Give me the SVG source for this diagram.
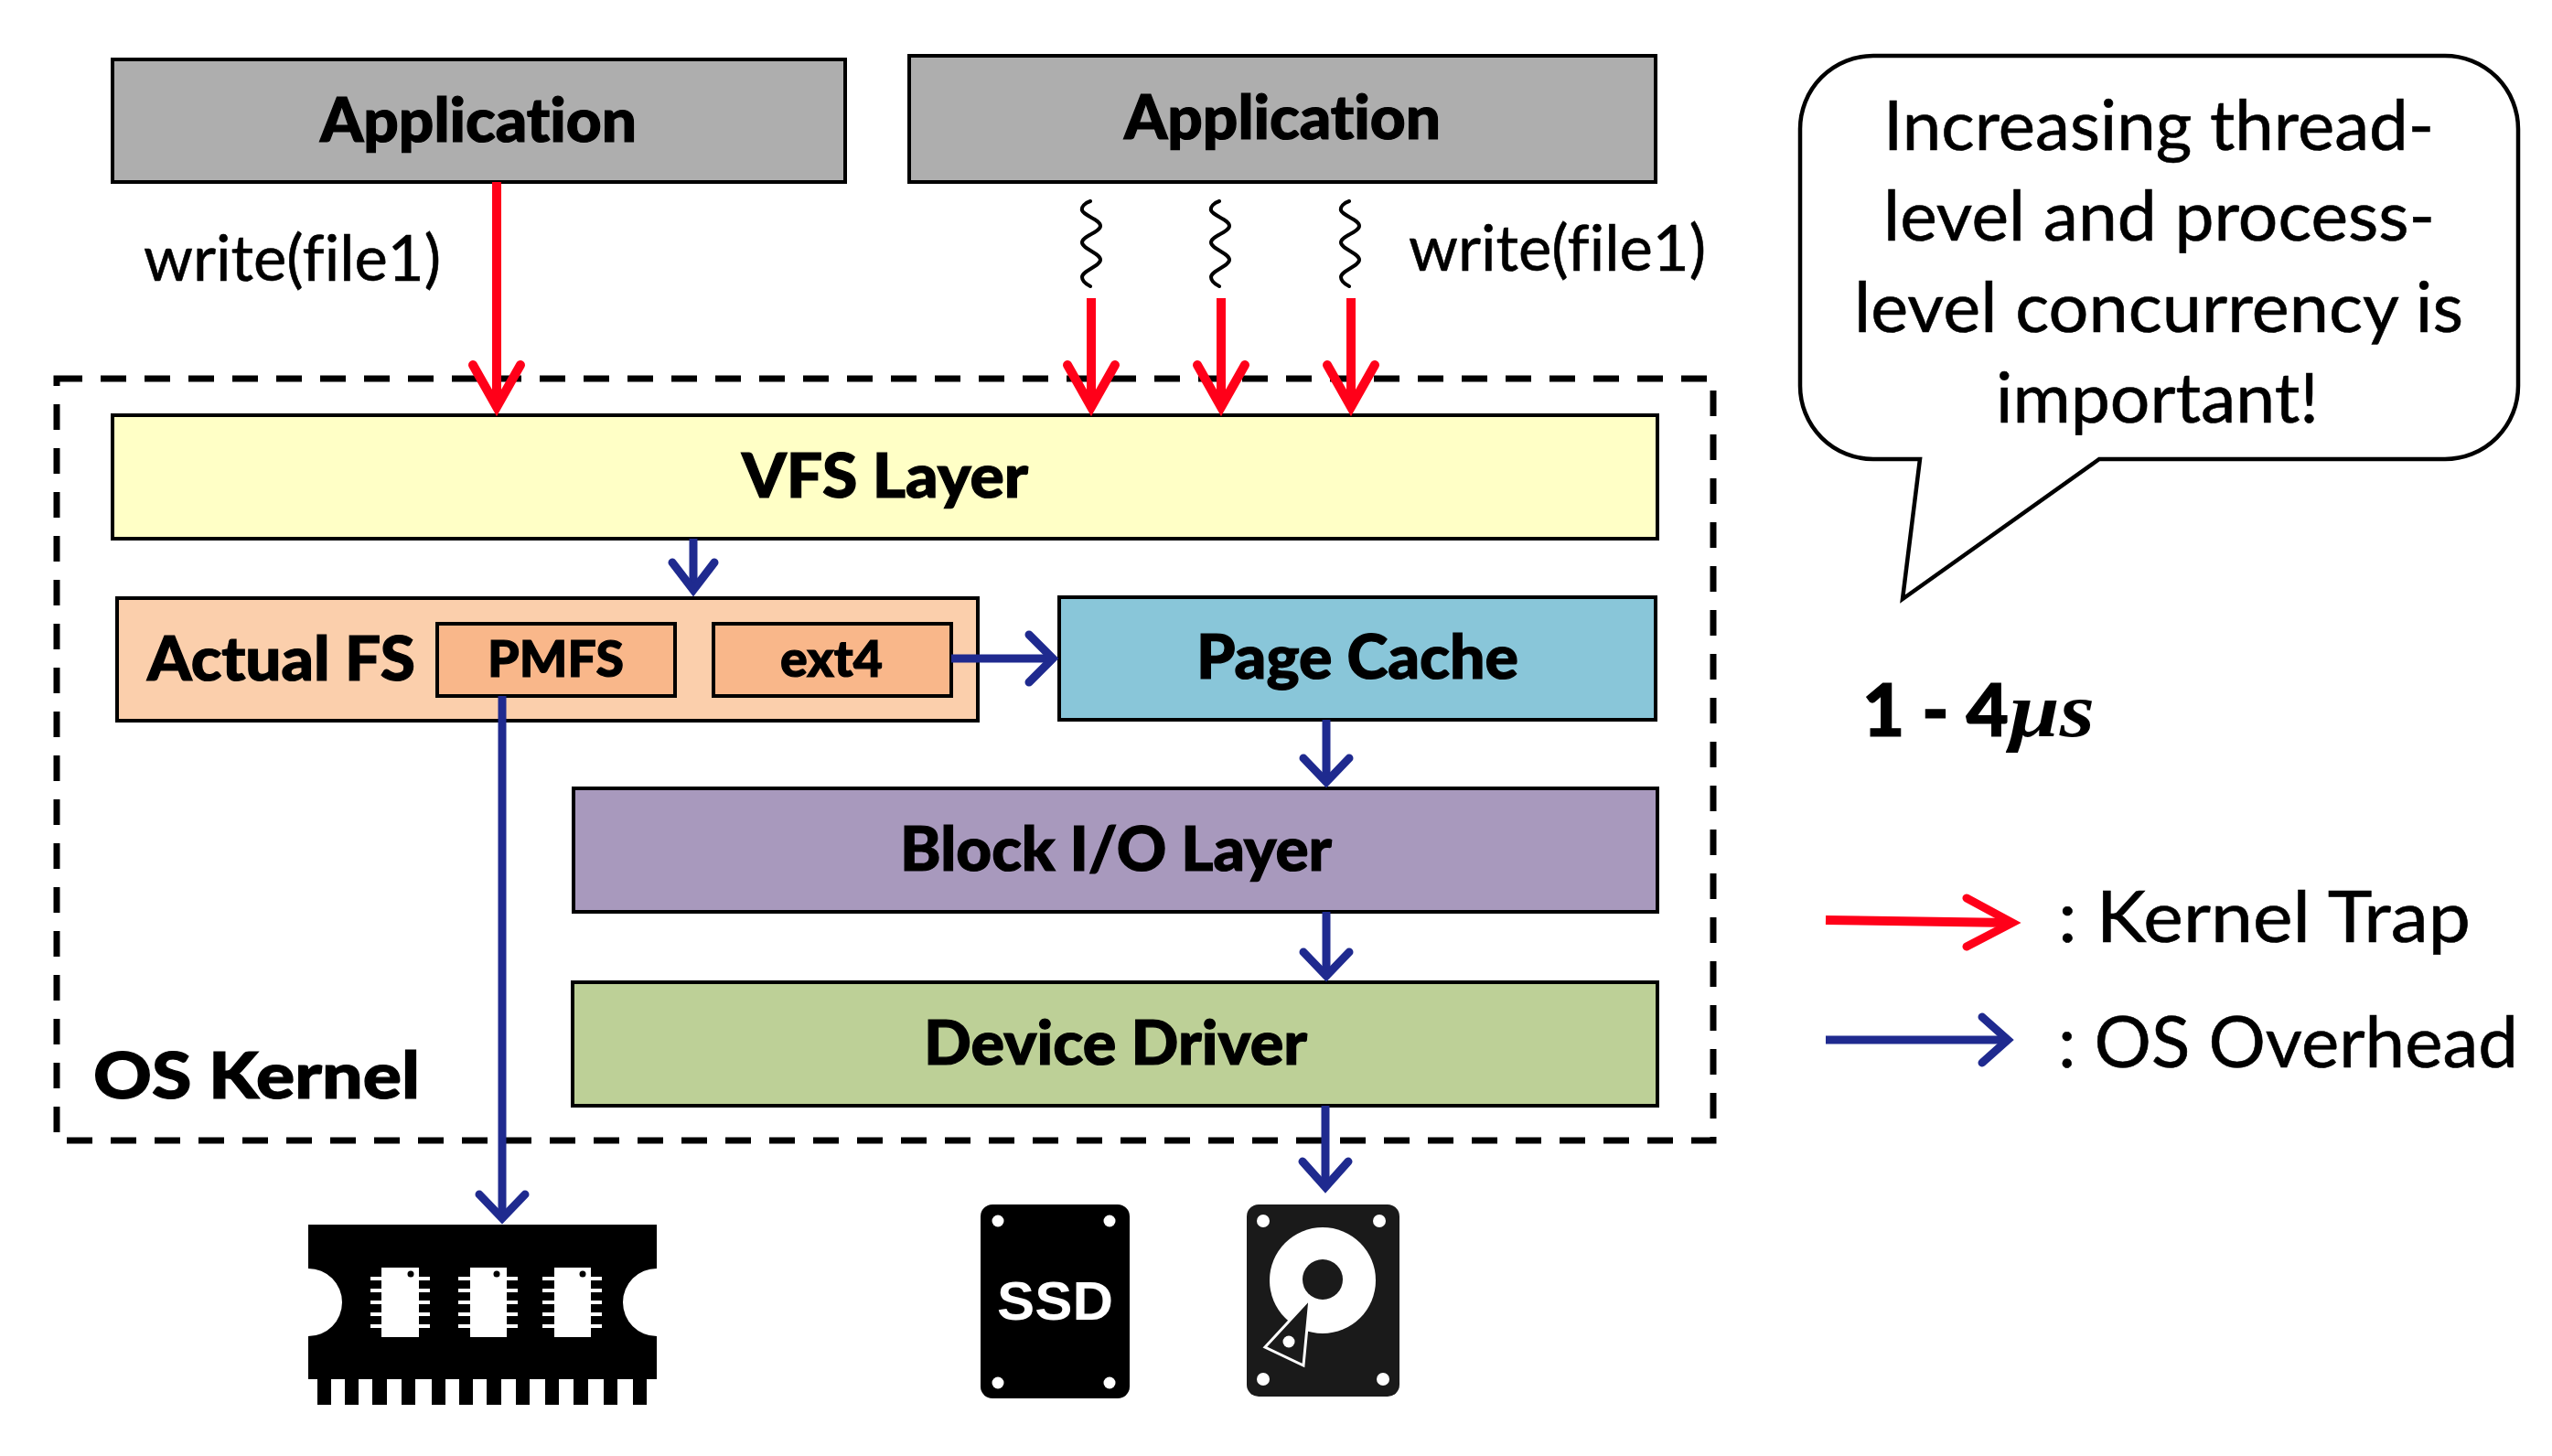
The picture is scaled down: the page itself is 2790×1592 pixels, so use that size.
<svg xmlns="http://www.w3.org/2000/svg" width="2790" height="1592" viewBox="0 0 2790 1592">
<style>
.box{stroke:#000;stroke-width:4}
.b{font-family:Lato,"Liberation Sans",sans-serif;font-weight:900;font-size:66px;fill:#000;stroke:#000;stroke-width:1.2;font-variant-ligatures:none}
.r{font-family:Lato,"Liberation Sans",sans-serif;font-weight:400;font-size:76px;fill:#000;stroke:#000;stroke-width:.6;font-variant-ligatures:none}
.red{fill:none;stroke:#ff0019;stroke-width:10;stroke-linecap:round;stroke-linejoin:miter}
.blue{fill:none;stroke:#1f2a8f;stroke-width:9;stroke-linecap:round;stroke-linejoin:miter}
.shaft{stroke-linecap:butt}
.wave{fill:none;stroke:#000;stroke-width:4;stroke-linecap:round}
</style>
<g id="kernel-box"><rect x="62" y="414" width="1811" height="833" fill="none" stroke="#000" stroke-width="7" stroke-dasharray="28 20"/></g>
<g id="app1"><rect class="box" x="123" y="65" width="801" height="134" fill="#aeaeae"/><text class="b" x="350" y="155" textLength="346" lengthAdjust="spacingAndGlyphs">Application</text></g>
<g id="app2"><rect class="box" x="994" y="61" width="816" height="138" fill="#aeaeae"/><text class="b" x="1229" y="152" textLength="346" lengthAdjust="spacingAndGlyphs">Application</text></g>
<g id="vfs"><rect class="box" x="123" y="454" width="1689" height="135" fill="#ffffc6"/><text class="b" x="811" y="544" textLength="313" lengthAdjust="spacingAndGlyphs">VFS Layer</text></g>
<g id="actual-fs"><rect class="box" x="128" y="654" width="941" height="134" fill="#fbcfac"/><text class="b" x="161" y="744" textLength="293" lengthAdjust="spacingAndGlyphs">Actual FS</text></g>
<g id="pmfs"><rect class="box" x="478" y="682" width="260" height="79" fill="#f9b78a"/><text class="b" x="533" y="740" style="font-size:56px" textLength="149" lengthAdjust="spacingAndGlyphs">PMFS</text></g>
<g id="ext4"><rect class="box" x="780" y="682" width="260" height="79" fill="#f9b78a"/><text class="b" x="853" y="740" style="font-size:56px" textLength="112" lengthAdjust="spacingAndGlyphs">ext4</text></g>
<g id="page-cache"><rect class="box" x="1158" y="653" width="652" height="134" fill="#89c6d9"/><text class="b" x="1308" y="742" textLength="352" lengthAdjust="spacingAndGlyphs">Page Cache</text></g>
<g id="block-io"><rect class="box" x="627" y="862" width="1185" height="135" fill="#a899bd"/><text class="b" x="984" y="952" textLength="472" lengthAdjust="spacingAndGlyphs">Block I/O Layer</text></g>
<g id="device-driver"><rect class="box" x="626" y="1074" width="1186" height="135" fill="#bdd097"/><text class="b" x="1010" y="1164" textLength="419" lengthAdjust="spacingAndGlyphs">Device Driver</text></g>
<g id="os-kernel-label"><text class="b" x="102" y="1201" style="font-size:70px" textLength="357" lengthAdjust="spacingAndGlyphs">OS Kernel</text></g>
<g id="write1"><text class="r" x="157" y="307" style="font-size:70px" textLength="325" lengthAdjust="spacingAndGlyphs">write(file1)</text></g>
<g id="write2"><text class="r" x="1540" y="296" style="font-size:70px" textLength="325" lengthAdjust="spacingAndGlyphs">write(file1)</text></g>
<g id="threads">
<path class="wave" d="M1192 220C1186 222 1182 226 1183 230C1185 236 1203 240 1203 247C1203 254 1183 258 1183 265C1183 272 1203 277 1203 284C1203 291 1183 296 1183 303C1183 307 1188 311 1192 313"/>
<path class="wave" d="M1333 220C1327 222 1323 226 1324 230C1326 236 1344 240 1344 247C1344 254 1324 258 1324 265C1324 272 1344 277 1344 284C1344 291 1324 296 1324 303C1324 307 1329 311 1333 313"/>
<path class="wave" d="M1475 220C1469 222 1465 226 1466 230C1468 236 1486 240 1486 247C1486 254 1466 258 1466 265C1466 272 1486 277 1486 284C1486 291 1466 296 1466 303C1466 307 1471 311 1475 313"/>
</g>
<g id="connectors">
<path class="red shaft" d="M543 199V445"/><path class="red" d="M517 399L543 445L569 399"/>
<path class="red shaft" d="M1193 326V445"/><path class="red" d="M1167 399L1193 445L1219 399"/>
<path class="red shaft" d="M1335 326V445"/><path class="red" d="M1309 399L1335 445L1361 399"/>
<path class="red shaft" d="M1477 326V445"/><path class="red" d="M1451 399L1477 445L1503 399"/>
<path class="blue shaft" d="M758 589V645"/><path class="blue" d="M735 615L758 645L781 615"/>
<path class="blue shaft" d="M549 761V1332"/><path class="blue" d="M524 1306L549 1332L574 1306"/>
<path class="blue shaft" d="M1040 720H1151"/><path class="blue" d="M1125 694L1151 720L1125 746"/>
<path class="blue shaft" d="M1450 787V855"/><path class="blue" d="M1425 829L1450 855L1475 829"/>
<path class="blue shaft" d="M1450 997V1067"/><path class="blue" d="M1425 1041L1450 1067L1475 1041"/>
<path class="blue shaft" d="M1449 1209V1298"/><path class="blue" d="M1424 1270L1449 1298L1474 1270"/>
</g>
<g id="ram">
<path fill="#000" fill-rule="evenodd" d="M337 1339H718V1387A37 37 0 0 0 718 1461V1508H707V1536H692V1508H675V1536H660V1508H643V1536H627V1508H611V1536H596V1508H579V1536H564V1508H548V1536H532V1508H517V1536H502V1508H487V1536H472V1508H454V1536H439V1508H423V1536H407V1508H392V1536H377V1508H362V1536H347V1508H337V1461A37 37 0 0 0 337 1387Z"/>
<g id="chip1"><rect x="417" y="1386" width="41" height="76" fill="#fff"/><path d="M405 1398H470M405 1411H470M405 1424H470M405 1437H470M405 1450H470" stroke="#fff" stroke-width="4"/><circle cx="449" cy="1393" r="3.5" fill="#000"/></g>
<g id="chip2"><rect x="514" y="1386" width="40" height="76" fill="#fff"/><path d="M501 1398H566M501 1411H566M501 1424H566M501 1437H566M501 1450H566" stroke="#fff" stroke-width="4"/><circle cx="543" cy="1393" r="3.5" fill="#000"/></g>
<g id="chip3"><rect x="606" y="1386" width="40" height="76" fill="#fff"/><path d="M593 1398H658M593 1411H658M593 1424H658M593 1437H658M593 1450H658" stroke="#fff" stroke-width="4"/><circle cx="637" cy="1393" r="3.5" fill="#000"/></g>
</g>
<g id="ssd"><rect x="1072" y="1317" width="163" height="212" rx="13" fill="#000"/>
<g fill="#fff"><circle cx="1091" cy="1335" r="6.5"/><circle cx="1213" cy="1335" r="6.5"/><circle cx="1091" cy="1512" r="6.5"/><circle cx="1213" cy="1512" r="6.5"/></g>
<text x="1090" y="1443" fill="#fff" font-family="Liberation Sans, Arial, sans-serif" font-weight="700" font-size="60" textLength="127" lengthAdjust="spacingAndGlyphs">SSD</text></g>
<g id="hdd"><rect x="1363" y="1317" width="167" height="210" rx="13" fill="#1a1a1a"/>
<g fill="#fff"><circle cx="1381" cy="1335" r="7"/><circle cx="1508" cy="1335" r="7"/><circle cx="1381" cy="1508" r="7"/><circle cx="1512" cy="1508" r="7"/><circle cx="1446" cy="1400" r="58"/></g>
<path d="M1432 1420L1383 1473L1425 1493Z" fill="#1a1a1a" stroke="#fff" stroke-width="3" stroke-linejoin="miter"/>
<circle cx="1446" cy="1399" r="22" fill="#1a1a1a"/>
<circle cx="1409" cy="1467" r="6.5" fill="#fff"/></g>
<g id="callout"><path d="M2048 61H2673A80 80 0 0 1 2753 141V422A80 80 0 0 1 2673 502H2295L2080 655L2099 502H2048A80 80 0 0 1 1968 422V141A80 80 0 0 1 2048 61Z" fill="#fff" stroke="#000" stroke-width="4.5"/>
<text class="r" x="2059" y="164" textLength="602" lengthAdjust="spacingAndGlyphs">Increasing thread-</text>
<text class="r" x="2059" y="263" textLength="603" lengthAdjust="spacingAndGlyphs">level and process-</text>
<text class="r" x="2027" y="363" textLength="666" lengthAdjust="spacingAndGlyphs">level concurrency is</text>
<text class="r" x="2182" y="462" textLength="353" lengthAdjust="spacingAndGlyphs">important!</text></g>
<g id="latency"><text class="b" x="2036" y="805" style="font-size:80px" textLength="160" lengthAdjust="spacing">1 - 4</text><text x="2197" y="805" font-family="Liberation Serif, serif" font-style="italic" font-weight="700" font-size="84" textLength="93" lengthAdjust="spacingAndGlyphs">μs</text></g>
<g id="legend">
<path class="red shaft" d="M1996 1006L2198 1009"/><path class="red" d="M2150 982L2200 1009L2150 1035" style="stroke-width:9"/>
<path class="blue shaft" d="M1996 1137H2194"/><path class="blue" d="M2167 1112L2195 1137L2167 1162"/>
<text class="r" x="2250" y="1030" style="font-size:78px" textLength="451" lengthAdjust="spacingAndGlyphs">: Kernel Trap</text>
<text class="r" x="2250" y="1167" style="font-size:78px" textLength="503" lengthAdjust="spacingAndGlyphs">: OS Overhead</text>
</g>
</svg>
